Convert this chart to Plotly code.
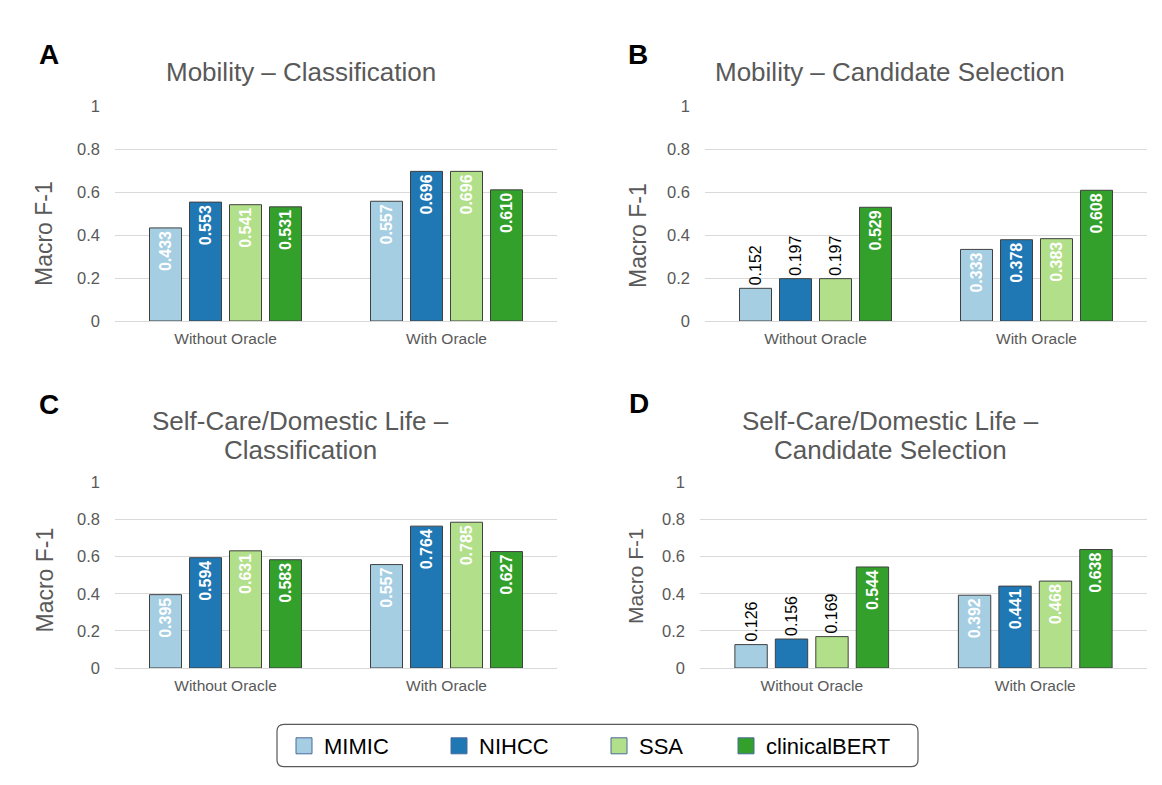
import plotly.graph_objects as go

# ---------------- data ----------------
categories = ["Without Oracle", "With Oracle"]
models = ["MIMIC", "NIHCC", "SSA", "clinicalBERT"]
colors = ["#a6cee3", "#1f78b4", "#b2df8a", "#33a02c"]
y_ticks = [0, 0.2, 0.4, 0.6, 0.8, 1]
y_ticktext = ["0", "0.2", "0.4", "0.6", "0.8", "1"]

# Panel A: Mobility - Classification
a_mimic = [0.433, 0.557]
a_nihcc = [0.553, 0.696]
a_ssa = [0.541, 0.696]
a_bert = [0.531, 0.610]
# Panel B: Mobility - Candidate Selection
b_mimic = [0.152, 0.333]
b_nihcc = [0.197, 0.378]
b_ssa = [0.197, 0.383]
b_bert = [0.529, 0.608]
# Panel C: Self-Care/Domestic Life - Classification
c_mimic = [0.395, 0.557]
c_nihcc = [0.594, 0.764]
c_ssa = [0.631, 0.785]
c_bert = [0.583, 0.627]
# Panel D: Self-Care/Domestic Life - Candidate Selection
d_mimic = [0.126, 0.392]
d_nihcc = [0.156, 0.441]
d_ssa = [0.169, 0.468]
d_bert = [0.544, 0.638]

titles = [["Mobility \u2013 Classification"],
          ["Mobility \u2013 Candidate Selection"],
          ["Self-Care/Domestic Life \u2013", "Classification"],
          ["Self-Care/Domestic Life \u2013", "Candidate Selection"]]
letters = ["A", "B", "C", "D"]
y_title = "Macro F-1"

panel_values = [[a_mimic, a_nihcc, a_ssa, a_bert],
                [b_mimic, b_nihcc, b_ssa, b_bert],
                [c_mimic, c_nihcc, c_ssa, c_bert],
                [d_mimic, d_nihcc, d_ssa, d_bert]]

# ---------------- layout helpers ----------------
W, H = 1162, 785
FONT = "Liberation Sans, Arial, sans-serif"
GREY = "#595959"


def fx(px):
    return px / W


def fy(py):
    return 1 - py / H


# plot areas in pixels: (x0, x1, y_top, y_bottom)
areas = [(115, 557, 106, 321),
         (705, 1147, 106, 321),
         (115, 557, 482.3, 668),
         (700, 1147, 482.3, 668)]
title_pos = [(300.5, [72.5]), (890, [72.5]), (300.5, [420.5, 450]), (890, [420.5, 450])]
letter_pos = [(49, 54.5), (638, 54.5), (49, 404.5), (639, 403.5)]
ytitle_pos = [(44, 234, 23), (638, 236, 23), (44.5, 580, 23), (635, 576, 21)]

fig = go.Figure()
layout = dict(
    width=W, height=H,
    margin=dict(l=0, r=0, t=0, b=0, autoexpand=False),
    paper_bgcolor="white", plot_bgcolor="white",
    barmode="group", bargap=0.276, bargroupgap=0.2,
    font=dict(family=FONT, color=GREY),
    annotations=[], shapes=[],
)

for p in range(4):
    sfx = "" if p == 0 else str(p + 1)
    x0, x1, yt, yb = areas[p]
    layout["xaxis" + sfx] = dict(
        domain=[fx(x0), fx(x1)], anchor="y" + sfx, type="category",
        showgrid=False, showline=False, zeroline=False, ticks="",
        tickfont=dict(size=15.5, color=GREY, family=FONT), ticklabelstandoff=6,
    )
    layout["yaxis" + sfx] = dict(
        domain=[fy(yb), fy(yt)], anchor="x" + sfx, range=[0, 1],
        tickvals=y_ticks, ticktext=y_ticktext,
        showgrid=True, gridcolor="#d9d9d9", gridwidth=1,
        zeroline=True, zerolinecolor="#d9d9d9", zerolinewidth=1,
        showline=False, ticks="", ticklabelstandoff=14,
        tickfont=dict(size=16.5, color=GREY, family=FONT),
    )
    for m, (name, col) in enumerate(zip(models, colors)):
        vals = panel_values[p][m]
        pos = ["outside" if v < 0.25 else "inside" for v in vals]
        fig.add_trace(go.Bar(
            x=categories, y=vals, name=name,
            marker=dict(color=col, line=dict(color="#404040", width=1)),
            text=[f"{v:.3f}" for v in vals], textposition=pos,
            textangle=-90, insidetextanchor="end", constraintext="none",
            insidetextfont=dict(color="white", size=16, family=FONT, weight="bold"),
            outsidetextfont=dict(color="black", size=16, family=FONT),
            cliponaxis=False, showlegend=False, hoverinfo="skip",
            xaxis="x" + sfx, yaxis="y" + sfx,
        ))
    # title
    tx, tys = title_pos[p]
    for line, ty in zip(titles[p], tys):
        layout["annotations"].append(dict(
            text=line, x=fx(tx), y=fy(ty), xref="paper", yref="paper",
            xanchor="center", yanchor="middle", showarrow=False,
            font=dict(size=26, color=GREY, family=FONT)))
    # panel letter
    lx, ly = letter_pos[p]
    layout["annotations"].append(dict(
        text="<b>" + letters[p] + "</b>", x=fx(lx), y=fy(ly), xref="paper", yref="paper",
        xanchor="center", yanchor="middle", showarrow=False,
        font=dict(size=28, color="black", family=FONT)))
    # y title
    ax_, ay_, asz = ytitle_pos[p]
    layout["annotations"].append(dict(
        text=y_title, x=fx(ax_), y=fy(ay_), xref="paper", yref="paper",
        xanchor="center", yanchor="middle", showarrow=False, textangle=-90,
        font=dict(size=asz, color=GREY, family=FONT)))

# legend: one small legend per model, placed like the reference
legend_x = [284, 439, 599, 726]
for i, (name, col) in enumerate(zip(models, colors)):
    key = "legend" if i == 0 else "legend" + str(i + 1)
    fig.add_trace(go.Scatter(
        x=[None], y=[None], mode="markers", name=name, legend=key,
        marker=dict(symbol="square", size=16, color=col, line=dict(color="#4a6a9a", width=1)),
        showlegend=True, hoverinfo="skip",
    ))
    layout[key] = dict(
        x=fx(legend_x[i]), y=fy(746), xanchor="left", yanchor="middle",
        xref="paper", yref="paper", orientation="h", itemsizing="trace",
        bgcolor="rgba(0,0,0,0)", borderwidth=0,
        font=dict(size=22, color="black", family=FONT),
    )

# rounded legend frame
lx0, lx1, ly0, ly1, r = 277, 918, 724.3, 766.7, 7
rx, ry = r / W, r / H
X0, X1, Y0, Y1 = fx(lx0), fx(lx1), fy(ly1), fy(ly0)
path = (f"M{X0 + rx},{Y1} L{X1 - rx},{Y1} Q{X1},{Y1} {X1},{Y1 - ry} "
        f"L{X1},{Y0 + ry} Q{X1},{Y0} {X1 - rx},{Y0} L{X0 + rx},{Y0} "
        f"Q{X0},{Y0} {X0},{Y0 + ry} L{X0},{Y1 - ry} Q{X0},{Y1} {X0 + rx},{Y1} Z")
layout["shapes"].append(dict(type="path", path=path, xref="paper", yref="paper",
                             line=dict(color="#595959", width=1.2)))

fig.update_layout(**layout)
fig.write_html("out.html", config={"displayModeBar": False},
               post_script="document.body.style.margin='0';")
